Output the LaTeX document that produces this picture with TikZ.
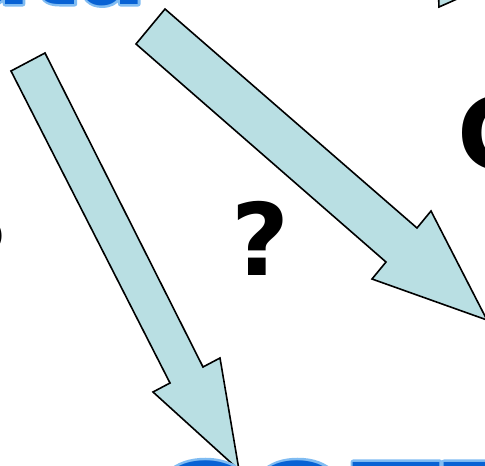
\documentclass[tikz,border=0pt]{standalone}
\usepackage{fontspec}
\setmainfont{DejaVu Sans}
\definecolor{arrowfill}{RGB}{185,223,227}
\definecolor{wordblue}{RGB}{8,98,212}
\definecolor{wordrim}{RGB}{128,188,242}
% blue word with a pale rim: stroked copy under a filled copy
\newcommand{\rimword}[1]{%
  \rlap{\special{pdf:code q 1 Tr 5 w 1 j 0.502 0.737 0.949 RG}#1\special{pdf:code 0 Tr Q}}%
  \textcolor{wordblue}{#1}}
\tikzset{
  bigarrow/.style={draw=black, line width=1.6pt, fill=arrowfill, line join=miter},
  qmark/.style={font=\fontsize{100}{100}\selectfont\bfseries, anchor=base west, inner sep=0pt},
  wordart/.style={font=\fontsize{#1}{#1}\selectfont\bfseries, anchor=base west, inner sep=0pt}
}
\begin{document}
\begin{tikzpicture}[x=1pt,y=-1pt]
  \useasboundingbox (0,0) rectangle (485,466);
  \begin{scope}
    \clip (0,0) rectangle (485,466);
    % block arrows
    \draw[bigarrow] (11,71) -- (45,53) -- (203,367) -- (220,358) -- (239,470)
      -- (153,392) -- (170,383) -- cycle;
    \draw[bigarrow] (136,44) -- (165,9) -- (417,228) -- (431,211) -- (487,320)
      -- (372,279) -- (386,262) -- cycle;
    \draw[bigarrow] (439,7) -- (437,-40) -- (500,-20) -- cycle;
    % labels
    \node[qmark] (qmid) at (231,275) {?};
    \node[qmark] (qleft) at (-50,291) {?};
    \node[qmark] (cright) at (457,169) {C};
    \node[wordart=100] (wtop) at (-120,4) {\rimword{Data}};
    \node[wordart=129] (wbottom) at (148,556) {\rimword{COTTON}};
  \end{scope}
\end{tikzpicture}
\end{document}
